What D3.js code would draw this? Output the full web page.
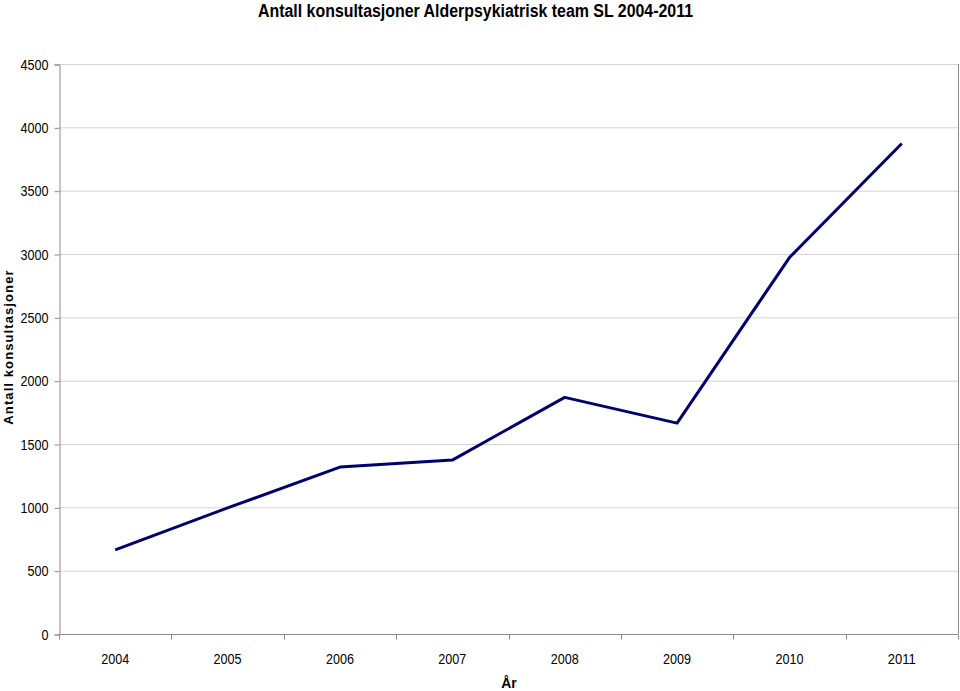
<!DOCTYPE html>
<html>
<head>
<meta charset="utf-8">
<script src="https://cdn.jsdelivr.net/npm/d3@7"></script>
<style>
  html, body { margin: 0; padding: 0; background: #fff; }
  svg { display: block; }
</style>
</head>
<body>
<div id="chart"></div>
<script>
// Data
const years = ['2004', '2005', '2006', '2007', '2008', '2009', '2010', '2011'];
const consultations = [664, 995, 1318, 1373, 1868, 1665, 2972, 3872];
const yTicks = [0, 500, 1000, 1500, 2000, 2500, 3000, 3500, 4000, 4500];

const cfg = {
  w: 960,
  h: 691,
  left: 59,
  right: 958,
  top: 64,
  bottom: 634,
  lineColor: '#000070',
  gridColor: '#d4d4d4',
  axisColor: '#8c8c8c',
  font: "'Liberation Sans', Arial, sans-serif",
  digitW: 7,
};

const svg = d3.select('#chart')
  .append('svg')
  .attr('width', cfg.w)
  .attr('height', cfg.h);

const x = d3.scaleBand()
  .domain(years)
  .range([cfg.left, cfg.right]);

const y = d3.scaleLinear()
  .domain([0, 4500])
  .range([cfg.bottom, cfg.top]);

// Grid lines
svg.append('g')
  .selectAll('line')
  .data(yTicks.filter(t => t > 0))
  .join('line')
  .attr('x1', cfg.left).attr('x2', cfg.right)
  .attr('y1', d => y(d) + 0.5).attr('y2', d => y(d) + 0.5)
  .attr('stroke', cfg.gridColor);

// Right frame edge
svg.append('line')
  .attr('x1', cfg.right + 0.5).attr('x2', cfg.right + 0.5)
  .attr('y1', cfg.top).attr('y2', cfg.bottom)
  .attr('stroke', cfg.axisColor);

// Y axis (labels are tall and slightly condensed in the original)
svg.append('g')
  .attr('transform', `translate(${cfg.left + 0.5}, 0.5)`)
  .call(d3.axisLeft(y).tickValues(yTicks).tickSize(5).tickPadding(6).tickFormat(d3.format('d')))
  .call(g => g.select('.domain').attr('stroke', cfg.axisColor))
  .call(g => g.selectAll('.tick line').attr('stroke', cfg.axisColor))
  .call(g => g.selectAll('.tick text')
    .attr('fill', '#000')
    .attr('font-family', cfg.font)
    .attr('font-size', '15px')
    .attr('textLength', d => String(d).length * cfg.digitW)
    .attr('lengthAdjust', 'spacingAndGlyphs'));

// X axis: ticks at category boundaries, labels centred
svg.append('g')
  .attr('transform', `translate(0, ${cfg.bottom + 0.5})`)
  .call(g => g.append('line')
    .attr('x1', cfg.left).attr('x2', cfg.right)
    .attr('stroke', cfg.axisColor))
  .call(g => g.selectAll('line.tk')
    .data(years.concat(['end']))
    .join('line')
    .attr('class', 'tk')
    .attr('x1', (d, i) => Math.round(cfg.left + i * x.bandwidth()) + 0.5)
    .attr('x2', (d, i) => Math.round(cfg.left + i * x.bandwidth()) + 0.5)
    .attr('y1', 0).attr('y2', 5)
    .attr('stroke', cfg.axisColor))
  .call(g => g.selectAll('text')
    .data(years)
    .join('text')
    .attr('x', d => x(d) + x.bandwidth() / 2)
    .attr('y', 29)
    .attr('text-anchor', 'middle')
    .attr('font-family', cfg.font)
    .attr('font-size', '15px')
    .attr('textLength', d => d.length * cfg.digitW)
    .attr('lengthAdjust', 'spacingAndGlyphs')
    .attr('fill', '#000')
    .text(d => d));

// Line
const line = d3.line()
  .x((d, i) => x(years[i]) + x.bandwidth() / 2)
  .y(d => y(d));

svg.append('path')
  .datum(consultations)
  .attr('d', line)
  .attr('fill', 'none')
  .attr('stroke', cfg.lineColor)
  .attr('stroke-width', 3)
  .attr('stroke-linejoin', 'round');

// Title (condensed bold, as in the original)
svg.append('text')
  .attr('x', 258)
  .attr('y', 17)
  .attr('font-family', cfg.font)
  .attr('font-weight', 'bold')
  .attr('font-size', '18px')
  .attr('textLength', 435)
  .attr('lengthAdjust', 'spacingAndGlyphs')
  .text('Antall konsultasjoner Alderpsykiatrisk team SL 2004-2011');

// Axis titles
svg.append('text')
  .attr('transform', 'translate(13, 347) rotate(-90)')
  .attr('text-anchor', 'middle')
  .attr('font-family', cfg.font)
  .attr('font-weight', 'bold')
  .attr('font-size', '13px')
  .attr('letter-spacing', '1.1px')
  .text('Antall konsultasjoner');

svg.append('text')
  .attr('x', 509)
  .attr('y', 688)
  .attr('text-anchor', 'middle')
  .attr('font-family', cfg.font)
  .attr('font-weight', 'bold')
  .attr('font-size', '14px')
  .text('År');
</script>
</body>
</html>
